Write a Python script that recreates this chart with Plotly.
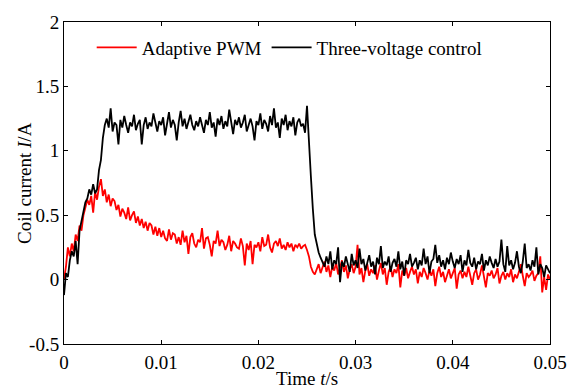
import plotly.graph_objects as go

dt = 0.0002
n_pts = 251
time_s = [round(i * dt, 6) for i in range(n_pts)]

three_voltage = [
    -0.12, 0.05, 0.02, 0.15, 0.22, 0.18, 0.30, 0.12, 0.38, 0.45,
    0.52, 0.60, 0.63, 0.70, 0.66, 0.74, 0.67, 0.70, 0.85, 0.93,
    1.10, 1.20, 1.25, 1.18, 1.33, 1.15, 1.22, 1.20, 1.05, 1.24,
    1.18, 1.27, 1.20, 1.14, 1.22, 1.19, 1.28, 1.16, 1.21, 1.24,
    1.05, 1.20, 1.26, 1.17, 1.22, 1.19, 1.29, 1.21, 1.15, 1.23,
    1.20, 1.26, 1.12, 1.21, 1.30, 1.18, 1.24, 1.20, 1.08, 1.22,
    1.31, 1.19, 1.25, 1.17, 1.22, 1.28, 1.20, 1.16, 1.23, 1.19,
    1.26, 1.21, 1.14, 1.24, 1.20, 1.30, 1.18, 1.22, 1.11, 1.25,
    1.20, 1.27, 1.17, 1.23, 1.19, 1.32, 1.21, 1.13, 1.24, 1.20,
    1.26, 1.18, 1.22, 1.28, 1.15, 1.21, 1.25, 1.19, 1.08, 1.23,
    1.20, 1.29, 1.17, 1.24, 1.21, 1.15, 1.27, 1.20, 1.33, 1.18,
    1.22, 1.10, 1.25, 1.20, 1.28, 1.16, 1.23, 1.19, 1.26, 1.12,
    1.22, 1.25, 1.19, 1.21, 1.14, 1.35, 1.12, 0.80, 0.55, 0.35,
    0.28, 0.21, 0.17, 0.14, 0.10, 0.18, 0.12, 0.22, 0.08, 0.15,
    0.12, 0.25, -0.02, 0.14, 0.10, 0.18, 0.13, 0.06, 0.20, 0.11,
    0.15, 0.09, 0.24, 0.12, 0.16, 0.07, 0.13, 0.19, 0.10, 0.14,
    0.04, 0.17, 0.12, 0.26, 0.09, 0.14, 0.11, 0.18, 0.06, 0.13,
    0.16, 0.10, 0.22, 0.08, 0.14, 0.03, 0.15, 0.12, 0.20, 0.10,
    0.13, 0.17, 0.08, 0.15, 0.11, 0.24, 0.12, 0.18, 0.05, 0.14,
    0.16, 0.27, 0.13, 0.19, 0.10, 0.15, 0.08, 0.17, 0.12, 0.21,
    0.14, 0.09, 0.16, 0.12, 0.19, 0.06, 0.15, 0.11, 0.23, 0.13,
    0.10, 0.17, 0.08, 0.14, 0.12, 0.20, 0.07, 0.15, 0.11, 0.18,
    0.13, 0.09, 0.16, 0.10, 0.14, 0.31, 0.12, 0.06, 0.26, 0.11,
    0.15, 0.08, 0.13, 0.22, 0.10, 0.05, 0.14, 0.28, 0.09, 0.12,
    0.07, 0.15, 0.10, 0.25, 0.04, 0.12, 0.09, 0.02, 0.11, 0.08,
    0.05,
]

adaptive_pwm = [
    0.00, 0.10, 0.25, 0.18, 0.28, 0.22, 0.35, 0.30, 0.42, 0.38,
    0.50, 0.55, 0.62, 0.58, 0.65, 0.52, 0.68, 0.62, 0.72, 0.78,
    0.65, 0.70, 0.60, 0.66, 0.57, 0.63, 0.61, 0.54, 0.58, 0.49,
    0.55, 0.52, 0.47, 0.56, 0.46, 0.50, 0.53, 0.44, 0.49, 0.42,
    0.47, 0.40, 0.45, 0.38, 0.44, 0.42, 0.35, 0.41, 0.34, 0.40,
    0.33, 0.38, 0.32, 0.30, 0.39, 0.31, 0.36, 0.35, 0.28, 0.33,
    0.27, 0.38, 0.29, 0.34, 0.20, 0.33, 0.36, 0.28, 0.25, 0.31,
    0.29, 0.40, 0.24, 0.32, 0.33, 0.27, 0.18, 0.30, 0.28, 0.38,
    0.26, 0.31, 0.29, 0.23, 0.27, 0.34, 0.22, 0.30, 0.28, 0.25,
    0.24, 0.32, 0.26, 0.11, 0.28, 0.23, 0.30, 0.12, 0.27, 0.25,
    0.29, 0.22, 0.33, 0.26, 0.27, 0.35, 0.25, 0.21, 0.28, 0.30,
    0.26, 0.32, 0.24, 0.27, 0.23, 0.29, 0.25, 0.28, 0.22, 0.27,
    0.25, 0.28, 0.24, 0.26, 0.27, 0.23, 0.18, 0.10, 0.06, 0.04,
    0.08, 0.12, 0.05, 0.09, 0.14, 0.06, 0.11, 0.02, 0.10, 0.07,
    0.13, 0.04, 0.09, 0.15, 0.06, 0.11, 0.01, 0.08, 0.12, 0.05,
    0.10, 0.27, 0.04, 0.09, -0.02, 0.07, 0.12, 0.03, 0.08, 0.05,
    0.11, 0.00, 0.07, 0.13, 0.04, 0.09, -0.04, 0.06, 0.10, 0.02,
    0.08, 0.05, 0.12, -0.06, 0.07, 0.03, 0.09, 0.01, 0.06, 0.10,
    0.04, 0.08, -0.03, 0.06, 0.02, 0.09, 0.05, 0.00, 0.07, 0.03,
    0.08, -0.05, 0.05, 0.10, 0.02, 0.06, -0.02, 0.04, 0.08, 0.01,
    0.05, 0.09, -0.07, 0.04, 0.07, 0.01, 0.06, 0.02, 0.10, 0.03,
    -0.04, 0.05, 0.08, 0.00, 0.04, 0.11, 0.02, -0.06, 0.05, 0.03,
    0.07, 0.01, 0.04, 0.09, -0.03, 0.03, 0.06, 0.00, 0.05, 0.02,
    0.08, -0.02, 0.04, 0.01, 0.06, 0.12, 0.03, -0.05, 0.05, 0.02,
    0.04, 0.07, -0.01, 0.03, 0.05, 0.18, -0.10, 0.02, -0.08, 0.04,
    0.00,
]

x_ticks = [0, 0.01, 0.02, 0.03, 0.04, 0.05]
x_tick_labels = ["0", "0.01", "0.02", "0.03", "0.04", "0.05"]
y_ticks = [-0.5, 0, 0.5, 1, 1.5, 2]
y_tick_labels = ["-0.5", "0", "0.5", "1", "1.5", "2"]

font_family = "Liberation Serif"
fs = 19

fig = go.Figure()
fig.add_trace(go.Scatter(x=time_s, y=adaptive_pwm, mode="lines",
                         name="Adaptive PWM",
                         line=dict(color="#ff0000", width=1.8)))
fig.add_trace(go.Scatter(x=time_s, y=three_voltage, mode="lines",
                         name="Three-voltage control",
                         line=dict(color="#000000", width=1.8)))

axis_common = dict(showline=True, linecolor="black", linewidth=1, mirror="ticks",
                   ticks="inside", ticklen=4, tickcolor="black", showgrid=False,
                   zeroline=False, tickfont=dict(family=font_family, size=fs, color="black"))

fig.update_layout(
    width=579, height=390,
    margin=dict(l=64, r=26, t=16, b=46),
    paper_bgcolor="white", plot_bgcolor="white",
    font=dict(family=font_family, size=fs, color="black"),
    showlegend=True,
    legend=dict(orientation="h", x=0.057, y=0.98, xanchor="left", yanchor="top",
                bgcolor="rgba(0,0,0,0)", font=dict(family=font_family, size=fs, color="black"),
                itemwidth=40, tracegroupgap=0),
    xaxis=dict(range=[0, 0.05], tickvals=x_ticks, ticktext=x_tick_labels,
               ticklabelstandoff=1, **axis_common),
    yaxis=dict(range=[-0.5, 2], tickvals=y_ticks, ticktext=y_tick_labels,
               ticklabelstandoff=0, **axis_common),
    annotations=[
        dict(text="Time <i>t</i>/s", xref="paper", yref="paper", x=0.5, y=0,
             xanchor="center", yanchor="middle", yshift=-34, showarrow=False,
             font=dict(family=font_family, size=fs, color="black")),
        dict(text="Coil current <i>I</i>/A", xref="paper", yref="paper", x=0, y=0.5,
             xanchor="center", yanchor="middle", xshift=-40, textangle=-90, showarrow=False,
             font=dict(family=font_family, size=fs, color="black")),
    ],
)

fig.write_html("out.html")
